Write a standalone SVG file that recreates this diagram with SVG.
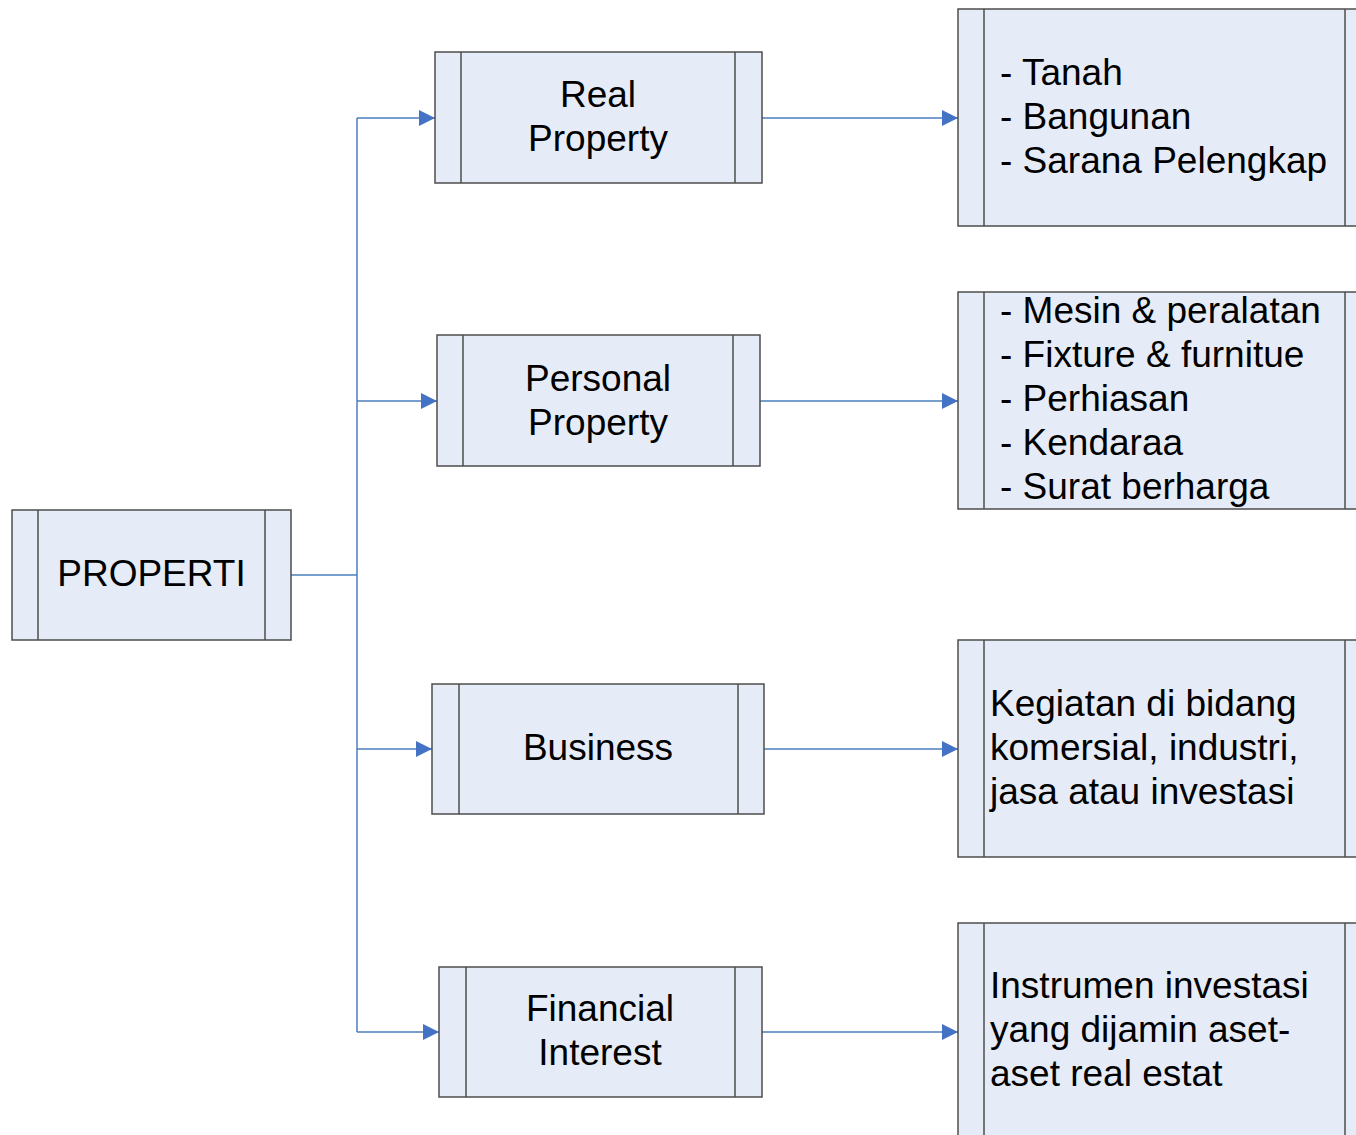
<svg xmlns="http://www.w3.org/2000/svg" width="1356" height="1135" viewBox="0 0 1356 1135">
<style>
.box{fill:#e6ecf7;stroke:#4d4d4d;stroke-width:1.5}
.div{stroke:#4d4d4d;stroke-width:1.5;fill:none}
.t{font-family:"Liberation Sans",Arial,sans-serif;font-size:37px;fill:#000}
.c{text-anchor:middle}
.ln{stroke:#4a7ebb;stroke-width:1.5;fill:none}
</style>
<defs>
<marker id="ah" markerWidth="16" markerHeight="16" viewBox="0 0 16 16" refX="16" refY="8" orient="auto" markerUnits="userSpaceOnUse">
<path d="M0,0 L16,8 L0,16 Z" fill="#4472c4"/>
</marker>
</defs>
<rect width="1356" height="1135" fill="#fff"/>
<g id="connectors">
<path class="ln" d="M291,575 H357"/>
<path class="ln" d="M357,118 V1032"/>
<path class="ln" d="M357,118 H435" marker-end="url(#ah)"/>
<path class="ln" d="M357,401 H437" marker-end="url(#ah)"/>
<path class="ln" d="M357,749 H432" marker-end="url(#ah)"/>
<path class="ln" d="M357,1032 H439" marker-end="url(#ah)"/>
<path class="ln" d="M762,118 H958" marker-end="url(#ah)"/>
<path class="ln" d="M760,401 H958" marker-end="url(#ah)"/>
<path class="ln" d="M764,749 H958" marker-end="url(#ah)"/>
<path class="ln" d="M762,1032 H958" marker-end="url(#ah)"/>
</g>
<g id="properti">
<rect class="box" x="12" y="510" width="279" height="130"/>
<path class="div" d="M38,510 V640 M265,510 V640"/>
<text class="t c" x="151.500" y="586">PROPERTI</text>
</g>
<g id="real-property">
<rect class="box" x="435" y="52" width="327" height="131"/>
<path class="div" d="M461,52 V183 M735,52 V183"/>
<text class="t c" x="598" y="107">Real</text>
<text class="t c" x="598" y="151">Property</text>
</g>
<g id="personal-property">
<rect class="box" x="437" y="335" width="323" height="131"/>
<path class="div" d="M463,335 V466 M733,335 V466"/>
<text class="t c" x="598" y="391">Personal</text>
<text class="t c" x="598" y="435">Property</text>
</g>
<g id="business">
<rect class="box" x="432" y="684" width="332" height="130"/>
<path class="div" d="M459,684 V814 M738,684 V814"/>
<text class="t c" x="598" y="760">Business</text>
</g>
<g id="financial-interest">
<rect class="box" x="439" y="967" width="323" height="130"/>
<path class="div" d="M466,967 V1097 M735,967 V1097"/>
<text class="t c" x="600" y="1021">Financial</text>
<text class="t c" x="600" y="1065">Interest</text>
</g>
<g id="real-items">
<rect class="box" x="958" y="9" width="414" height="217"/>
<path class="div" d="M984,9 V226 M1345,9 V226"/>
<text class="t" x="1000" y="85">- Tanah</text>
<text class="t" x="1000" y="129">- Bangunan</text>
<text class="t" x="1000" y="173">- Sarana Pelengkap</text>
</g>
<g id="personal-items">
<rect class="box" x="958" y="292" width="414" height="217"/>
<path class="div" d="M984,292 V509 M1345,292 V509"/>
<text class="t" x="1000" y="323">- Mesin &amp; peralatan</text>
<text class="t" x="1000" y="367">- Fixture &amp; furnitue</text>
<text class="t" x="1000" y="411">- Perhiasan</text>
<text class="t" x="1000" y="455">- Kendaraa</text>
<text class="t" x="1000" y="499">- Surat berharga</text>
</g>
<g id="business-items">
<rect class="box" x="958" y="640" width="414" height="217"/>
<path class="div" d="M984,640 V857 M1345,640 V857"/>
<text class="t" x="990" y="716">Kegiatan di bidang</text>
<text class="t" x="990" y="760">komersial, industri,</text>
<text class="t" x="990" y="804">jasa atau investasi</text>
</g>
<g id="financial-items">
<rect class="box" x="958" y="923" width="414" height="230"/>
<path class="div" d="M984,923 V1153 M1345,923 V1153"/>
<text class="t" x="990" y="998">Instrumen investasi</text>
<text class="t" x="990" y="1042">yang dijamin aset-</text>
<text class="t" x="990" y="1086">aset real estat</text>
</g>
</svg>
